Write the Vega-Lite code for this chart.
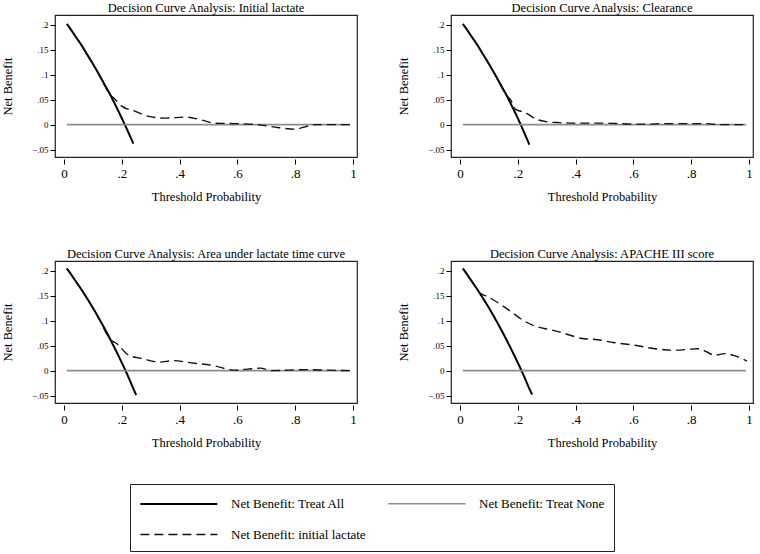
{
  "$schema": "https://vega.github.io/schema/vega-lite/v6.json",
  "padding": {"left": 1, "top": 0, "right": 0, "bottom": 0},
  "autosize": {"type": "pad"},
  "background": "white",
  "datasets": {
    "dca": [
      {"panel": "Decision Curve Analysis: Initial lactate", "series": "Net Benefit: Treat All", "x": 0.01, "y": 0.202},
      {"panel": "Decision Curve Analysis: Initial lactate", "series": "Net Benefit: Treat All", "x": 0.02, "y": 0.194},
      {"panel": "Decision Curve Analysis: Initial lactate", "series": "Net Benefit: Treat All", "x": 0.04, "y": 0.177},
      {"panel": "Decision Curve Analysis: Initial lactate", "series": "Net Benefit: Treat All", "x": 0.06, "y": 0.16},
      {"panel": "Decision Curve Analysis: Initial lactate", "series": "Net Benefit: Treat All", "x": 0.08, "y": 0.141},
      {"panel": "Decision Curve Analysis: Initial lactate", "series": "Net Benefit: Treat All", "x": 0.10, "y": 0.122},
      {"panel": "Decision Curve Analysis: Initial lactate", "series": "Net Benefit: Treat All", "x": 0.12, "y": 0.102},
      {"panel": "Decision Curve Analysis: Initial lactate", "series": "Net Benefit: Treat All", "x": 0.14, "y": 0.081},
      {"panel": "Decision Curve Analysis: Initial lactate", "series": "Net Benefit: Treat All", "x": 0.16, "y": 0.06},
      {"panel": "Decision Curve Analysis: Initial lactate", "series": "Net Benefit: Treat All", "x": 0.18, "y": 0.037},
      {"panel": "Decision Curve Analysis: Initial lactate", "series": "Net Benefit: Treat All", "x": 0.20, "y": 0.013},
      {"panel": "Decision Curve Analysis: Initial lactate", "series": "Net Benefit: Treat All", "x": 0.22, "y": -0.012},
      {"panel": "Decision Curve Analysis: Initial lactate", "series": "Net Benefit: Treat All", "x": 0.24, "y": -0.038},
      {"panel": "Decision Curve Analysis: Initial lactate", "series": "Net Benefit: Treat None", "x": 0.01, "y": 0},
      {"panel": "Decision Curve Analysis: Initial lactate", "series": "Net Benefit: Treat None", "x": 0.99, "y": 0},
      {"panel": "Decision Curve Analysis: Initial lactate", "series": "Net Benefit: initial lactate", "x": 0.01, "y": 0.202},
      {"panel": "Decision Curve Analysis: Initial lactate", "series": "Net Benefit: initial lactate", "x": 0.04, "y": 0.177},
      {"panel": "Decision Curve Analysis: Initial lactate", "series": "Net Benefit: initial lactate", "x": 0.08, "y": 0.141},
      {"panel": "Decision Curve Analysis: Initial lactate", "series": "Net Benefit: initial lactate", "x": 0.12, "y": 0.102},
      {"panel": "Decision Curve Analysis: Initial lactate", "series": "Net Benefit: initial lactate", "x": 0.16, "y": 0.06},
      {"panel": "Decision Curve Analysis: Initial lactate", "series": "Net Benefit: initial lactate", "x": 0.175, "y": 0.052},
      {"panel": "Decision Curve Analysis: Initial lactate", "series": "Net Benefit: initial lactate", "x": 0.20, "y": 0.037},
      {"panel": "Decision Curve Analysis: Initial lactate", "series": "Net Benefit: initial lactate", "x": 0.245, "y": 0.027},
      {"panel": "Decision Curve Analysis: Initial lactate", "series": "Net Benefit: initial lactate", "x": 0.29, "y": 0.017},
      {"panel": "Decision Curve Analysis: Initial lactate", "series": "Net Benefit: initial lactate", "x": 0.35, "y": 0.013},
      {"panel": "Decision Curve Analysis: Initial lactate", "series": "Net Benefit: initial lactate", "x": 0.42, "y": 0.015},
      {"panel": "Decision Curve Analysis: Initial lactate", "series": "Net Benefit: initial lactate", "x": 0.465, "y": 0.011},
      {"panel": "Decision Curve Analysis: Initial lactate", "series": "Net Benefit: initial lactate", "x": 0.52, "y": 0.003},
      {"panel": "Decision Curve Analysis: Initial lactate", "series": "Net Benefit: initial lactate", "x": 0.59, "y": 0.002},
      {"panel": "Decision Curve Analysis: Initial lactate", "series": "Net Benefit: initial lactate", "x": 0.67, "y": 0},
      {"panel": "Decision Curve Analysis: Initial lactate", "series": "Net Benefit: initial lactate", "x": 0.73, "y": -0.005},
      {"panel": "Decision Curve Analysis: Initial lactate", "series": "Net Benefit: initial lactate", "x": 0.80, "y": -0.009},
      {"panel": "Decision Curve Analysis: Initial lactate", "series": "Net Benefit: initial lactate", "x": 0.85, "y": -0.002},
      {"panel": "Decision Curve Analysis: Initial lactate", "series": "Net Benefit: initial lactate", "x": 0.87, "y": 0},
      {"panel": "Decision Curve Analysis: Initial lactate", "series": "Net Benefit: initial lactate", "x": 0.99, "y": 0},

      {"panel": "Decision Curve Analysis: Clearance", "series": "Net Benefit: Treat All", "x": 0.01, "y": 0.202},
      {"panel": "Decision Curve Analysis: Clearance", "series": "Net Benefit: Treat All", "x": 0.02, "y": 0.194},
      {"panel": "Decision Curve Analysis: Clearance", "series": "Net Benefit: Treat All", "x": 0.04, "y": 0.177},
      {"panel": "Decision Curve Analysis: Clearance", "series": "Net Benefit: Treat All", "x": 0.06, "y": 0.16},
      {"panel": "Decision Curve Analysis: Clearance", "series": "Net Benefit: Treat All", "x": 0.08, "y": 0.141},
      {"panel": "Decision Curve Analysis: Clearance", "series": "Net Benefit: Treat All", "x": 0.10, "y": 0.122},
      {"panel": "Decision Curve Analysis: Clearance", "series": "Net Benefit: Treat All", "x": 0.12, "y": 0.102},
      {"panel": "Decision Curve Analysis: Clearance", "series": "Net Benefit: Treat All", "x": 0.14, "y": 0.081},
      {"panel": "Decision Curve Analysis: Clearance", "series": "Net Benefit: Treat All", "x": 0.16, "y": 0.06},
      {"panel": "Decision Curve Analysis: Clearance", "series": "Net Benefit: Treat All", "x": 0.18, "y": 0.037},
      {"panel": "Decision Curve Analysis: Clearance", "series": "Net Benefit: Treat All", "x": 0.20, "y": 0.013},
      {"panel": "Decision Curve Analysis: Clearance", "series": "Net Benefit: Treat All", "x": 0.22, "y": -0.013},
      {"panel": "Decision Curve Analysis: Clearance", "series": "Net Benefit: Treat All", "x": 0.24, "y": -0.04},
      {"panel": "Decision Curve Analysis: Clearance", "series": "Net Benefit: Treat None", "x": 0.01, "y": 0},
      {"panel": "Decision Curve Analysis: Clearance", "series": "Net Benefit: Treat None", "x": 0.99, "y": 0},
      {"panel": "Decision Curve Analysis: Clearance", "series": "Net Benefit: initial lactate", "x": 0.01, "y": 0.202},
      {"panel": "Decision Curve Analysis: Clearance", "series": "Net Benefit: initial lactate", "x": 0.04, "y": 0.177},
      {"panel": "Decision Curve Analysis: Clearance", "series": "Net Benefit: initial lactate", "x": 0.08, "y": 0.141},
      {"panel": "Decision Curve Analysis: Clearance", "series": "Net Benefit: initial lactate", "x": 0.12, "y": 0.102},
      {"panel": "Decision Curve Analysis: Clearance", "series": "Net Benefit: initial lactate", "x": 0.16, "y": 0.06},
      {"panel": "Decision Curve Analysis: Clearance", "series": "Net Benefit: initial lactate", "x": 0.177, "y": 0.048},
      {"panel": "Decision Curve Analysis: Clearance", "series": "Net Benefit: initial lactate", "x": 0.194, "y": 0.03},
      {"panel": "Decision Curve Analysis: Clearance", "series": "Net Benefit: initial lactate", "x": 0.223, "y": 0.025},
      {"panel": "Decision Curve Analysis: Clearance", "series": "Net Benefit: initial lactate", "x": 0.264, "y": 0.011},
      {"panel": "Decision Curve Analysis: Clearance", "series": "Net Benefit: initial lactate", "x": 0.31, "y": 0.005},
      {"panel": "Decision Curve Analysis: Clearance", "series": "Net Benefit: initial lactate", "x": 0.345, "y": 0.004},
      {"panel": "Decision Curve Analysis: Clearance", "series": "Net Benefit: initial lactate", "x": 0.40, "y": 0.003},
      {"panel": "Decision Curve Analysis: Clearance", "series": "Net Benefit: initial lactate", "x": 0.50, "y": 0.003},
      {"panel": "Decision Curve Analysis: Clearance", "series": "Net Benefit: initial lactate", "x": 0.60, "y": 0.001},
      {"panel": "Decision Curve Analysis: Clearance", "series": "Net Benefit: initial lactate", "x": 0.65, "y": 0.001},
      {"panel": "Decision Curve Analysis: Clearance", "series": "Net Benefit: initial lactate", "x": 0.70, "y": 0.002},
      {"panel": "Decision Curve Analysis: Clearance", "series": "Net Benefit: initial lactate", "x": 0.85, "y": 0.002},
      {"panel": "Decision Curve Analysis: Clearance", "series": "Net Benefit: initial lactate", "x": 0.90, "y": 0},
      {"panel": "Decision Curve Analysis: Clearance", "series": "Net Benefit: initial lactate", "x": 0.99, "y": 0},

      {"panel": "Decision Curve Analysis: Area under lactate time curve", "series": "Net Benefit: Treat All", "x": 0.01, "y": 0.205},
      {"panel": "Decision Curve Analysis: Area under lactate time curve", "series": "Net Benefit: Treat All", "x": 0.02, "y": 0.197},
      {"panel": "Decision Curve Analysis: Area under lactate time curve", "series": "Net Benefit: Treat All", "x": 0.04, "y": 0.18},
      {"panel": "Decision Curve Analysis: Area under lactate time curve", "series": "Net Benefit: Treat All", "x": 0.06, "y": 0.163},
      {"panel": "Decision Curve Analysis: Area under lactate time curve", "series": "Net Benefit: Treat All", "x": 0.08, "y": 0.145},
      {"panel": "Decision Curve Analysis: Area under lactate time curve", "series": "Net Benefit: Treat All", "x": 0.10, "y": 0.126},
      {"panel": "Decision Curve Analysis: Area under lactate time curve", "series": "Net Benefit: Treat All", "x": 0.12, "y": 0.106},
      {"panel": "Decision Curve Analysis: Area under lactate time curve", "series": "Net Benefit: Treat All", "x": 0.14, "y": 0.085},
      {"panel": "Decision Curve Analysis: Area under lactate time curve", "series": "Net Benefit: Treat All", "x": 0.16, "y": 0.063},
      {"panel": "Decision Curve Analysis: Area under lactate time curve", "series": "Net Benefit: Treat All", "x": 0.18, "y": 0.04},
      {"panel": "Decision Curve Analysis: Area under lactate time curve", "series": "Net Benefit: Treat All", "x": 0.20, "y": 0.016},
      {"panel": "Decision Curve Analysis: Area under lactate time curve", "series": "Net Benefit: Treat All", "x": 0.22, "y": -0.009},
      {"panel": "Decision Curve Analysis: Area under lactate time curve", "series": "Net Benefit: Treat All", "x": 0.24, "y": -0.036},
      {"panel": "Decision Curve Analysis: Area under lactate time curve", "series": "Net Benefit: Treat All", "x": 0.25, "y": -0.049},
      {"panel": "Decision Curve Analysis: Area under lactate time curve", "series": "Net Benefit: Treat None", "x": 0.01, "y": 0},
      {"panel": "Decision Curve Analysis: Area under lactate time curve", "series": "Net Benefit: Treat None", "x": 0.99, "y": 0},
      {"panel": "Decision Curve Analysis: Area under lactate time curve", "series": "Net Benefit: initial lactate", "x": 0.01, "y": 0.205},
      {"panel": "Decision Curve Analysis: Area under lactate time curve", "series": "Net Benefit: initial lactate", "x": 0.04, "y": 0.18},
      {"panel": "Decision Curve Analysis: Area under lactate time curve", "series": "Net Benefit: initial lactate", "x": 0.08, "y": 0.145},
      {"panel": "Decision Curve Analysis: Area under lactate time curve", "series": "Net Benefit: initial lactate", "x": 0.12, "y": 0.106},
      {"panel": "Decision Curve Analysis: Area under lactate time curve", "series": "Net Benefit: initial lactate", "x": 0.16, "y": 0.063},
      {"panel": "Decision Curve Analysis: Area under lactate time curve", "series": "Net Benefit: initial lactate", "x": 0.183, "y": 0.054},
      {"panel": "Decision Curve Analysis: Area under lactate time curve", "series": "Net Benefit: initial lactate", "x": 0.224, "y": 0.031},
      {"panel": "Decision Curve Analysis: Area under lactate time curve", "series": "Net Benefit: initial lactate", "x": 0.271, "y": 0.024},
      {"panel": "Decision Curve Analysis: Area under lactate time curve", "series": "Net Benefit: initial lactate", "x": 0.33, "y": 0.017},
      {"panel": "Decision Curve Analysis: Area under lactate time curve", "series": "Net Benefit: initial lactate", "x": 0.377, "y": 0.02},
      {"panel": "Decision Curve Analysis: Area under lactate time curve", "series": "Net Benefit: initial lactate", "x": 0.435, "y": 0.016},
      {"panel": "Decision Curve Analysis: Area under lactate time curve", "series": "Net Benefit: initial lactate", "x": 0.518, "y": 0.01},
      {"panel": "Decision Curve Analysis: Area under lactate time curve", "series": "Net Benefit: initial lactate", "x": 0.588, "y": 0.001},
      {"panel": "Decision Curve Analysis: Area under lactate time curve", "series": "Net Benefit: initial lactate", "x": 0.635, "y": 0.003},
      {"panel": "Decision Curve Analysis: Area under lactate time curve", "series": "Net Benefit: initial lactate", "x": 0.68, "y": 0.005},
      {"panel": "Decision Curve Analysis: Area under lactate time curve", "series": "Net Benefit: initial lactate", "x": 0.717, "y": 0},
      {"panel": "Decision Curve Analysis: Area under lactate time curve", "series": "Net Benefit: initial lactate", "x": 0.835, "y": 0.002},
      {"panel": "Decision Curve Analysis: Area under lactate time curve", "series": "Net Benefit: initial lactate", "x": 0.905, "y": 0.001},
      {"panel": "Decision Curve Analysis: Area under lactate time curve", "series": "Net Benefit: initial lactate", "x": 0.99, "y": 0},

      {"panel": "Decision Curve Analysis: APACHE III score", "series": "Net Benefit: Treat All", "x": 0.01, "y": 0.205},
      {"panel": "Decision Curve Analysis: APACHE III score", "series": "Net Benefit: Treat All", "x": 0.02, "y": 0.197},
      {"panel": "Decision Curve Analysis: APACHE III score", "series": "Net Benefit: Treat All", "x": 0.04, "y": 0.18},
      {"panel": "Decision Curve Analysis: APACHE III score", "series": "Net Benefit: Treat All", "x": 0.06, "y": 0.163},
      {"panel": "Decision Curve Analysis: APACHE III score", "series": "Net Benefit: Treat All", "x": 0.08, "y": 0.145},
      {"panel": "Decision Curve Analysis: APACHE III score", "series": "Net Benefit: Treat All", "x": 0.10, "y": 0.126},
      {"panel": "Decision Curve Analysis: APACHE III score", "series": "Net Benefit: Treat All", "x": 0.12, "y": 0.106},
      {"panel": "Decision Curve Analysis: APACHE III score", "series": "Net Benefit: Treat All", "x": 0.14, "y": 0.085},
      {"panel": "Decision Curve Analysis: APACHE III score", "series": "Net Benefit: Treat All", "x": 0.16, "y": 0.063},
      {"panel": "Decision Curve Analysis: APACHE III score", "series": "Net Benefit: Treat All", "x": 0.18, "y": 0.04},
      {"panel": "Decision Curve Analysis: APACHE III score", "series": "Net Benefit: Treat All", "x": 0.20, "y": 0.016},
      {"panel": "Decision Curve Analysis: APACHE III score", "series": "Net Benefit: Treat All", "x": 0.22, "y": -0.009},
      {"panel": "Decision Curve Analysis: APACHE III score", "series": "Net Benefit: Treat All", "x": 0.24, "y": -0.036},
      {"panel": "Decision Curve Analysis: APACHE III score", "series": "Net Benefit: Treat All", "x": 0.25, "y": -0.048},
      {"panel": "Decision Curve Analysis: APACHE III score", "series": "Net Benefit: Treat None", "x": 0.01, "y": 0},
      {"panel": "Decision Curve Analysis: APACHE III score", "series": "Net Benefit: Treat None", "x": 0.99, "y": 0},
      {"panel": "Decision Curve Analysis: APACHE III score", "series": "Net Benefit: initial lactate", "x": 0.01, "y": 0.205},
      {"panel": "Decision Curve Analysis: APACHE III score", "series": "Net Benefit: initial lactate", "x": 0.04, "y": 0.18},
      {"panel": "Decision Curve Analysis: APACHE III score", "series": "Net Benefit: initial lactate", "x": 0.07, "y": 0.155},
      {"panel": "Decision Curve Analysis: APACHE III score", "series": "Net Benefit: initial lactate", "x": 0.09, "y": 0.15},
      {"panel": "Decision Curve Analysis: APACHE III score", "series": "Net Benefit: initial lactate", "x": 0.168, "y": 0.122},
      {"panel": "Decision Curve Analysis: APACHE III score", "series": "Net Benefit: initial lactate", "x": 0.221, "y": 0.1},
      {"panel": "Decision Curve Analysis: APACHE III score", "series": "Net Benefit: initial lactate", "x": 0.267, "y": 0.088},
      {"panel": "Decision Curve Analysis: APACHE III score", "series": "Net Benefit: initial lactate", "x": 0.314, "y": 0.082},
      {"panel": "Decision Curve Analysis: APACHE III score", "series": "Net Benefit: initial lactate", "x": 0.36, "y": 0.075},
      {"panel": "Decision Curve Analysis: APACHE III score", "series": "Net Benefit: initial lactate", "x": 0.418, "y": 0.065},
      {"panel": "Decision Curve Analysis: APACHE III score", "series": "Net Benefit: initial lactate", "x": 0.476, "y": 0.062},
      {"panel": "Decision Curve Analysis: APACHE III score", "series": "Net Benefit: initial lactate", "x": 0.534, "y": 0.056},
      {"panel": "Decision Curve Analysis: APACHE III score", "series": "Net Benefit: initial lactate", "x": 0.604, "y": 0.051},
      {"panel": "Decision Curve Analysis: APACHE III score", "series": "Net Benefit: initial lactate", "x": 0.674, "y": 0.044},
      {"panel": "Decision Curve Analysis: APACHE III score", "series": "Net Benefit: initial lactate", "x": 0.743, "y": 0.041},
      {"panel": "Decision Curve Analysis: APACHE III score", "series": "Net Benefit: initial lactate", "x": 0.825, "y": 0.044},
      {"panel": "Decision Curve Analysis: APACHE III score", "series": "Net Benefit: initial lactate", "x": 0.883, "y": 0.031},
      {"panel": "Decision Curve Analysis: APACHE III score", "series": "Net Benefit: initial lactate", "x": 0.917, "y": 0.034},
      {"panel": "Decision Curve Analysis: APACHE III score", "series": "Net Benefit: initial lactate", "x": 0.95, "y": 0.03},
      {"panel": "Decision Curve Analysis: APACHE III score", "series": "Net Benefit: initial lactate", "x": 0.993, "y": 0.019}
    ]
  },
  "data": {"name": "dca"},
  "facet": {
    "field": "panel",
    "type": "nominal",
    "sort": ["Decision Curve Analysis: Initial lactate", "Decision Curve Analysis: Clearance", "Decision Curve Analysis: Area under lactate time curve", "Decision Curve Analysis: APACHE III score"],
    "header": {"title": null, "labelFont": "Liberation Serif", "labelFontSize": 12.5, "labelColor": "black", "labelPadding": 1}
  },
  "columns": 2,
  "spacing": {"column": 39, "row": 42},
  "resolve": {"axis": {"x": "independent", "y": "independent"}},
  "spec": {
    "width": 302,
    "height": 142,
    "mark": {"type": "line", "interpolate": "monotone"},
    "encoding": {
      "x": {
        "field": "x", "type": "quantitative",
        "scale": {"domain": [-0.031, 1.014], "nice": false, "zero": false},
        "axis": {"title": "Threshold Probability", "values": [0, 0.2, 0.4, 0.6, 0.8, 1], "labelExpr": "replace(format(datum.value, '~g'), '0.', '.')", "grid": false, "domain": false, "offset": 2, "tickSize": 5, "tickColor": "black", "labelPadding": 3, "labelFontSize": 13, "titlePadding": 10}
      },
      "y": {
        "field": "y", "type": "quantitative",
        "scale": {"domain": [-0.065, 0.22], "nice": false, "zero": false},
        "axis": {"title": "Net Benefit", "values": [-0.05, 0, 0.05, 0.1, 0.15, 0.2], "labelExpr": "replace(format(datum.value, '~g'), '0.', '.')", "grid": false, "domain": false, "tickSize": 5, "tickColor": "black", "labelPadding": 2, "labelFontSize": 9, "titlePadding": 17}
      },
      "color": {
        "field": "series", "type": "nominal", "title": null,
        "scale": {"domain": ["Net Benefit: Treat All", "Net Benefit: Treat None", "Net Benefit: initial lactate"], "range": ["#000000", "#8c8c8c", "#111111"]}
      },
      "strokeDash": {
        "field": "series", "type": "nominal", "title": null,
        "scale": {"domain": ["Net Benefit: Treat All", "Net Benefit: Treat None", "Net Benefit: initial lactate"], "range": [[1, 0], [1, 0], [9, 5]]}
      },
      "strokeWidth": {
        "field": "series", "type": "nominal", "title": null,
        "scale": {"domain": ["Net Benefit: Treat All", "Net Benefit: Treat None", "Net Benefit: initial lactate"], "range": [2, 1.4, 1.6]}
      }
    }
  },
  "config": {
    "font": "Liberation Serif",
    "view": {"stroke": "#222222", "strokeWidth": 1.2},
    "axis": {"labelFont": "Liberation Serif", "titleFont": "Liberation Serif", "labelColor": "black", "titleColor": "black", "titleFontSize": 12.5, "titleFontWeight": "normal"},
    "legend": {
      "orient": "none",
      "legendX": 75,
      "legendY": 469,
      "direction": "horizontal",
      "columns": 2,
      "columnPadding": 18,
      "rowPadding": 13,
      "symbolType": "M-1,0H7",
      "symbolSize": 370,
      "symbolStrokeWidth": 2,
      "labelOffset": 70,
      "labelFont": "Liberation Serif",
      "labelFontSize": 13,
      "labelColor": "black",
      "labelLimit": 300,
      "strokeColor": "#222222",
      "padding": 9
    }
  }
}
